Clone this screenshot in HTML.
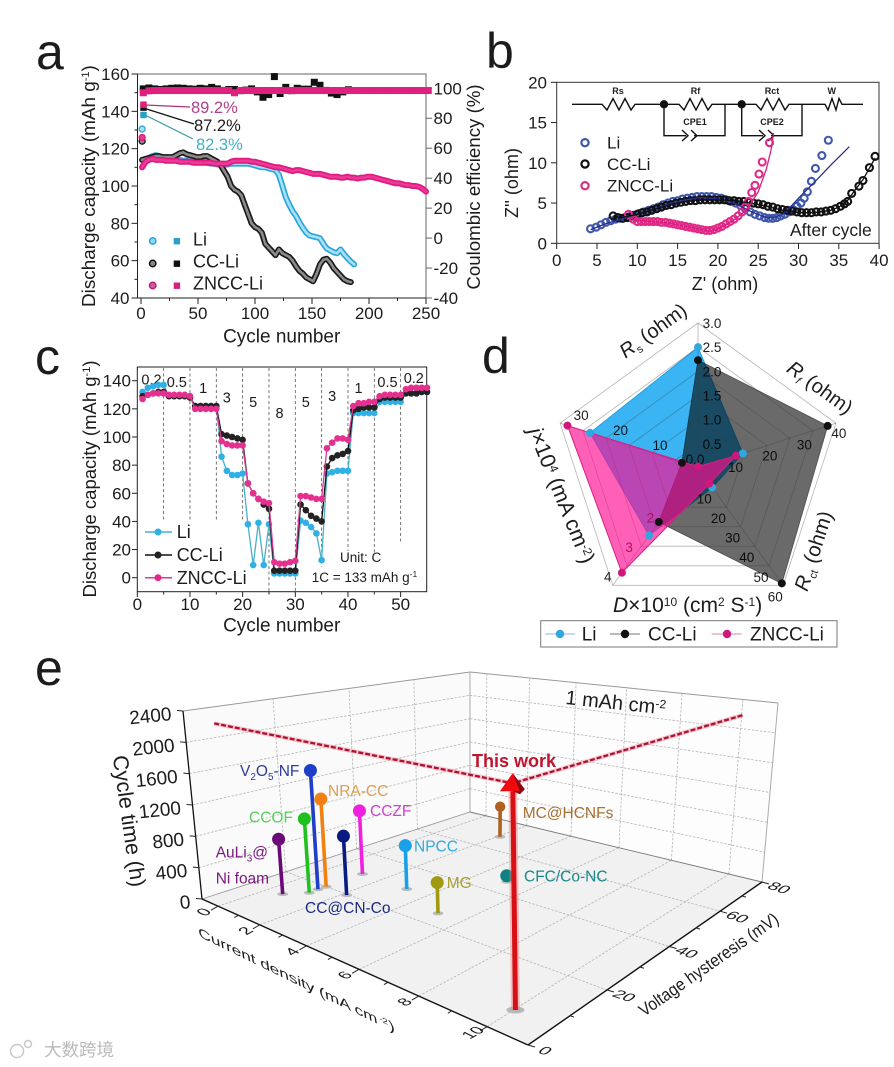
<!DOCTYPE html>
<html lang="en">
<head>
<meta charset="utf-8">
<title>Lithium anode battery performance figure</title>
<style>
html,body{margin:0;padding:0;background:#fff;}
svg{display:block;font-family:"Liberation Sans","Noto Sans CJK SC",sans-serif;filter:blur(.35px);}
text{fill:#1c1c1c;}
</style>
</head>
<body>
<svg id="fig" width="894" height="1067" viewBox="0 0 894 1067" xmlns="http://www.w3.org/2000/svg">
<rect width="894" height="1067" fill="#fff"/>
<text x="36" y="69" font-size="50">a</text>
<text x="486" y="68" font-size="50">b</text>
<text x="35" y="374" font-size="50">c</text>
<text x="482" y="373" font-size="50">d</text>
<text x="35" y="685" font-size="50">e</text>

<g id="panelA">
<rect x="137.5" y="74" width="288.5" height="224" fill="none" stroke="#666" stroke-width="1"/>
<line x1="137.5" y1="74" x2="137.5" y2="298" stroke="#222"/>
<line x1="137.5" y1="298" x2="426" y2="298" stroke="#222"/>
<text transform="translate(95,307) rotate(-90)" font-size="18.9">Discharge capacity (mAh g<tspan dy="-6" font-size="11">-1</tspan><tspan dy="6">)</tspan></text>
<text transform="translate(480,187) rotate(-90)" font-size="18.7" text-anchor="middle">Coulombic efficiency (%)</text>
<text x="281.7" y="342.7" font-size="19" text-anchor="middle">Cycle number</text>
<line x1="145" y1="105" x2="190" y2="107" stroke="#b0307a" stroke-width="1.2"/>
<line x1="145" y1="108.5" x2="194" y2="124" stroke="#111" stroke-width="1.2"/>
<line x1="145" y1="115" x2="193" y2="139" stroke="#3a9aa8" stroke-width="1.2"/>
<text x="191" y="113" font-size="16.5" style="fill:#b0408a">89.2%</text>
<text x="194" y="131" font-size="16.5">87.2%</text>
<text x="196" y="150" font-size="16.5" style="fill:#3fb0c8">82.3%</text>
<g>
<circle cx="152.7" cy="241" r="3.2" fill="#8fd6f2" stroke="#2aa5dc" stroke-width="1.5"/>
<rect x="173.7" y="238" width="6.4" height="6.4" fill="#2a9fc8"/>
<text x="193" y="245.5" font-size="18">Li</text>
<circle cx="152.7" cy="263.5" r="3.2" fill="#888" stroke="#111" stroke-width="1.5"/>
<rect x="173.7" y="260.5" width="6.4" height="6.4" fill="#111"/>
<text x="193" y="267.5" font-size="18">CC-Li</text>
<circle cx="152.7" cy="285.5" r="3.2" fill="#c860a0" stroke="#c0187c" stroke-width="1.5"/>
<rect x="173.7" y="282.5" width="6.4" height="6.4" fill="#d81f80"/>
<text x="193" y="289.5" font-size="18">ZNCC-Li</text>
</g>
</g>

<g id="panelB">
<rect x="556.7" y="82.3" width="322.3" height="161" fill="none" stroke="#333" stroke-width="1"/>
<text x="725" y="290" font-size="18" text-anchor="middle">Z' (ohm)</text>
<text transform="translate(518,183) rotate(-90)" font-size="18" text-anchor="middle">Z'' (ohm)</text>
<g fill="none" stroke="#111" stroke-width="1.4">
<polyline points="572,104.3 602,104.3 607,110 613,98.5 619,110 625,98.5 631,110 635,104.3 679,104.3 684,110 690,98.5 696,110 702,98.5 708,110 712,104.3 756,104.3 761,110 767,98.5 773,110 779,98.5 785,110 789,104.3 825,104.3 828,110 832,98.5 836,110 839,98.5 842,104.3 863,104.3"/>
<polyline points="664,104.3 664,135.7 686,135.7"/>
<polyline points="694,135.7 725,135.7 725,104.3"/>
<polyline points="682,130 688,135.7 682,141"/>
<polyline points="691,130 697,135.7 691,141"/>
<polyline points="741.7,104.3 741.7,135.7 763,135.7"/>
<polyline points="771,135.7 802,135.7 802,104.3"/>
<polyline points="759,130 765,135.7 759,141"/>
<polyline points="768,130 774,135.7 768,141"/>
<circle cx="664" cy="104.3" r="4.2" fill="#111" stroke="none"/>
<circle cx="741.7" cy="104.3" r="4.2" fill="#111" stroke="none"/>
</g>
<g font-size="9" font-weight="bold" text-anchor="middle">
<text x="618" y="94">Rs</text>
<text x="695.5" y="94">Rf</text>
<text x="772" y="94">Rct</text>
<text x="831.7" y="94">W</text>
<text x="695" y="125">CPE1</text>
<text x="772" y="125">CPE2</text>
</g>
<g>
<circle cx="585" cy="142.7" r="3.6" fill="none" stroke="#3b55a8" stroke-width="2.2"/>
<text x="607" y="148.5" font-size="17">Li</text>
<circle cx="585" cy="164" r="3.6" fill="none" stroke="#111" stroke-width="2.2"/>
<text x="607" y="170" font-size="17">CC-Li</text>
<circle cx="585" cy="185.7" r="3.6" fill="none" stroke="#d8307f" stroke-width="2.2"/>
<text x="607" y="191.5" font-size="17">ZNCC-Li</text>
</g>
<text x="790" y="236" font-size="17.5">After cycle</text>
</g>

<g id="panelC">
<rect x="137.3" y="367" width="289.4" height="224.7" fill="none" stroke="#222" stroke-width="1"/>
<text transform="translate(96,479) rotate(-90)" font-size="18.5" text-anchor="middle">Discharge capacity (mAh g<tspan dy="-6" font-size="11">-1</tspan><tspan dy="6">)</tspan></text>
<text x="281.7" y="631.7" font-size="19" text-anchor="middle">Cycle number</text>
<text x="340" y="562" font-size="13.5">Unit: C</text>
<text x="311.7" y="582" font-size="13.5">1C = 133 mAh g<tspan dy="-5" font-size="8.5">-1</tspan></text>
<g>
<line x1="145" y1="532" x2="172" y2="532" stroke="#4ab0c8" stroke-width="1.5"/>
<circle cx="158" cy="532" r="3.5" fill="#2fb0e6"/>
<text x="176.7" y="538" font-size="18">Li</text>
<line x1="145" y1="555" x2="172" y2="555" stroke="#111" stroke-width="1.5"/>
<circle cx="158" cy="555" r="3.5" fill="#222"/>
<text x="176.7" y="561" font-size="18">CC-Li</text>
<line x1="145" y1="577.7" x2="172" y2="577.7" stroke="#d83a90" stroke-width="1.5"/>
<circle cx="158" cy="577.7" r="3.5" fill="#e0288c"/>
<text x="176.7" y="584" font-size="18">ZNCC-Li</text>
</g>
</g>

<g id="panelD">
<text transform="translate(657,336) rotate(-36)" font-size="20" text-anchor="middle"><tspan font-style="italic">R</tspan><tspan dy="4" font-size="11">s</tspan><tspan dy="-4"> (ohm)</tspan></text>
<text transform="translate(816,393) rotate(36)" font-size="20" text-anchor="middle"><tspan font-style="italic">R</tspan><tspan dy="4" font-size="11" font-style="italic">f</tspan><tspan dy="-4"> (ohm)</tspan></text>
<text transform="translate(820,553) rotate(-72)" font-size="20.5" text-anchor="middle"><tspan font-style="italic">R</tspan><tspan dy="4" font-size="11">ct</tspan><tspan dy="-4"> (ohm)</tspan></text>
<text x="613" y="612" font-size="21"><tspan font-style="italic">D</tspan>×10<tspan dy="-6" font-size="12">10</tspan><tspan dy="6"> (cm</tspan><tspan dy="-6" font-size="12">2</tspan><tspan dy="6"> S</tspan><tspan dy="-6" font-size="12">-1</tspan><tspan dy="6">)</tspan></text>
<text transform="translate(555,498) rotate(68)" font-size="21.5" text-anchor="middle"><tspan font-style="italic">j</tspan>×10<tspan dy="-6" font-size="12">4</tspan><tspan dy="6"> (mA cm</tspan><tspan dy="-6" font-size="12">-2</tspan><tspan dy="6">)</tspan></text>
<g>
<rect x="540.7" y="620.7" width="296.3" height="26.3" fill="#fff" stroke="#777"/>
<line x1="545" y1="634" x2="575" y2="634" stroke="#8abbd0"/>
<circle cx="560" cy="634" r="4.2" fill="#2fa8e0"/>
<text x="581.7" y="640.5" font-size="19">Li</text>
<line x1="610" y1="634" x2="640" y2="634" stroke="#777"/>
<circle cx="625" cy="634" r="4.2" fill="#111"/>
<text x="648" y="640.5" font-size="19">CC-Li</text>
<line x1="711.7" y1="634" x2="741.7" y2="634" stroke="#d880b0"/>
<circle cx="727" cy="634" r="4.2" fill="#d0187c"/>
<text x="750" y="640.5" font-size="19">ZNCC-Li</text>
</g>
</g>

<g id="panelE"></g>
<g id="panelELabels">
<text transform="translate(122,822) rotate(82)" font-size="21.5" text-anchor="middle">Cycle time (h)</text>
<text transform="matrix(.9,.44,.28,.8,200,937)" font-size="19" font-style="italic">Current density (mA cm<tspan dy="-6" font-size="11"> -2</tspan><tspan dy="6">)</tspan></text>
<text transform="translate(644,1017) rotate(-35)" font-size="17.5" textLength="166" lengthAdjust="spacingAndGlyphs">Voltage hysteresis (mV)</text>
<text transform="translate(565,704) rotate(6)" font-size="20">1 mAh cm<tspan dy="-6" font-size="12">-2</tspan></text>
<text x="472" y="767" font-size="18" font-weight="bold" style="fill:#c0142e">This work</text>
<g font-size="15.5">
<text x="240" y="776" style="fill:#2c3c9c">V<tspan dy="4" font-size="10">2</tspan><tspan dy="-4">O</tspan><tspan dy="4" font-size="10">5</tspan><tspan dy="-4">-NF</tspan></text>
<text x="328" y="796" style="fill:#dca050">NRA-CC</text>
<text x="249" y="822.5" style="fill:#58d058">CCOF</text>
<text x="370" y="816" style="fill:#d040d0">CCZF</text>
<text x="215.7" y="857.5" style="fill:#7a1a80">AuLi<tspan dy="4" font-size="10">3</tspan><tspan dy="-4">@</tspan></text>
<text x="215.7" y="883.5" style="fill:#7a1a80">Ni foam</text>
<text x="305" y="913" style="fill:#1a2a80">CC@CN-Co</text>
<text x="414" y="851.5" style="fill:#30a8e0">NPCC</text>
<text x="446.7" y="888" style="fill:#a8a030">MG</text>
<text x="522.7" y="818" style="fill:#a87030">MC@HCNFs</text>
<text x="524" y="881.5" style="fill:#1a8888">CFC/Co-NC</text>
</g>
</g>

<g opacity=".8">
<circle cx="17" cy="1051" r="6.5" fill="none" stroke="#bbb" stroke-width="1.5"/>
<circle cx="28" cy="1044" r="3.5" fill="none" stroke="#bbb" stroke-width="1.5"/>
<text x="44" y="1056" font-size="17.5" style="fill:#aaa">大数跨境</text>
</g>
</svg>

<script>
/* ---------- panel a data ---------- */
const aXTicks = [0, 50, 100, 150, 200, 250];
const aYTicks = [40, 60, 80, 100, 120, 140, 160];
const aRTicks = [-40, -20, 0, 20, 40, 60, 80, 100];
const aFirstCycle = 1;
const aStep = 3;
const aFirstCapacityLi = 130.5;
const aFirstCapacityCC = 124;
const aFirstCapacityZ = 126;
const aCapacityLi = [110,113,115,116,116.5,116,115.5,115,115,114.5,114,114,113.5,113.5,113,113,113,113,113,112.5,112,112,111.5,111.5,111.5,111.5,112,112,112,112,112,112,111.5,111,110.5,110,110,109.5,109,108.5,106,100,94,90,86.5,84,80.5,77.5,75,73.5,73,72.5,72,69,66.5,65.5,64.5,64,66,63.5,61.5,59.5,58];
const aCapacityCC = [114,114.5,115,115.5,116,116,115.5,115.5,115.5,115.5,116.5,117.5,118,117,116.5,116,115.5,115.5,116,116,115,114,113,111,108,105,100,98,97,95,90,85,80,78,77,75,69,67,65,63,66,64,63,62,60,57,54.5,53,51,50,49,53,58,60.5,61,59,56,54,52,50,49,48.5];
const aCapacityZ = [110,113,114,114.5,114,114,114,113.5,113.5,113.5,113.5,113,113,113,113,112.5,112.5,112.5,112.5,112.5,112.5,112,112,112,112,112,113,113.5,113.5,113.5,113.5,113.5,113,113,112.5,112,111.5,111,110.5,110,110,109.5,109,108.5,108,108.5,108.5,108,107.5,107,106.5,106.5,106.5,106,105.5,105,105,105,104.5,104.5,105,104.5,104.5,104,104.5,104.5,105,105,104.5,104,103.5,103,102.5,102,101.5,101.5,101,100.5,100.5,100,100,99.5,98.5,97];
const ceStart = 2;
const ceStep = 5;
const ceFirstLi = 82.3;
const ceFirstCC = 87.2;
const ceFirstZ = 89.2;
const ceLi = [98,98.5,98.5,98.5,98.5,98.5,98.5,98.5,98.5,98.5,98.5,98.5,98.5,98.5,98.5,98.5,98.5,98.5,98.5,98.5,98.5,98.5,98.5,98.5,98.5,98.5,98.5,98.5,98.5,98.5,98.5,98.5,98.5,98,98,98.5,98.5,98.5];
const ceCC = [99.6,100.2,99.6,99.2,99.6,100,100.2,100,99.6,99.4,100,99.6,100.6,99.6,98.6,99.2,99.2,98.4,98.8,99.6,97.6,94,95.8,107.8,96.5,100.6,98.4,100,99.4,99.4,104,102,98.6,96.8,95.8,97.6,99];
const ceZ = [97,98.3,98.5,98.5,98.5,98.5,98.5,98.5,98.5,98.5,98.5,98.5,98.5,98.5,98.5,98.5,97,98.5,98.5,98.5,98.5,98.5,98.5,98.5,98.5,98.5,98.5,98.5,98.5,98.5,98.5,98.5,98.5,98.5,98.5,98.5,98.5,98.5,98.5,98.5,98.5,98.5,98.5,98.5,98.5,98.5,98.5,98.5,98.5,98.5,98.5];

/* ---------- panel b data ---------- */
const bXTicks = [0, 5, 10, 15, 20, 25, 30, 35, 40];
const bYTicks = [0, 5, 10, 15, 20];
const liZr = [4.2,4.9,5.5,6.1,6.7,7.3,7.9,8.5,9,9.6,10.2,10.8,11.4,12,12.6,13.2,13.8,14.4,15,15.6,16.2,16.8,17.4,18,18.6,19.2,19.8,20.4,21,21.6,22.2,22.8,23.4,24,24.6,25.2,25.8,26.3,26.8,27.3,27.8,28.3,28.8,29.3,29.8,30.3,30.7,31.1,31.6,32.1,32.9,33.7];
const liZi = [1.8,2.0,2.3,2.6,2.8,3.0,3.1,3.2,3.3,3.5,3.7,3.9,4.1,4.3,4.5,4.8,5.0,5.2,5.3,5.5,5.6,5.7,5.8,5.8,5.8,5.8,5.7,5.6,5.4,5.2,5.0,4.7,4.3,3.9,3.6,3.4,3.2,3.1,3.1,3.2,3.4,3.6,3.9,4.2,4.6,5.0,5.6,6.4,7.7,9.3,10.9,12.8];
const ccZr = [7,7.6,8.2,8.8,9.4,10,10.6,11.2,11.8,12.4,13,13.6,14.2,14.8,15.4,16,16.6,17.2,17.8,18.4,19,19.6,20.2,20.8,21.4,22,22.6,23.2,23.8,24.4,25,25.6,26.2,26.8,27.4,28,28.6,29.2,29.8,30.4,31,31.6,32.2,32.8,33.4,34,34.6,35.2,35.7,36.1,36.6,37.5,38,38.8,39.5];
const ccZi = [3.4,3.2,3.1,3.2,3.4,3.6,3.8,3.9,4.1,4.3,4.5,4.7,4.8,5.0,5.1,5.2,5.3,5.3,5.4,5.4,5.4,5.4,5.4,5.4,5.3,5.3,5.2,5.2,5.1,5.0,4.9,4.8,4.6,4.5,4.3,4.2,4.1,4.0,3.9,3.8,3.8,3.8,3.9,3.9,4.0,4.1,4.3,4.6,4.9,5.2,6.2,7.1,7.8,9.4,10.8];
const znZr = [8.9,9.5,10,10.5,11,11.5,12,12.5,13,13.5,14,14.5,15,15.5,16,16.5,17,17.5,18,18.5,19,19.5,20,20.5,21,21.5,22,22.5,23,23.4,23.8,24.2,24.6,25.1,25.5,26.4];
const znZi = [3.6,3.0,2.7,2.7,2.7,2.7,2.7,2.7,2.6,2.6,2.5,2.4,2.3,2.2,2.1,2.0,1.9,1.8,1.7,1.6,1.6,1.7,1.9,2.1,2.4,2.7,3.0,3.4,3.9,4.5,5.2,6.3,7.2,8.6,10.1,12.5];
const liFitR = [4.2,6,8,10,12,14,16,18,20,22,24,26,27,28,29,30,32,34,36.3];
const liFitI = [1.7,2.4,3.0,3.6,4.2,4.9,5.4,5.7,5.5,5,4,3.2,3.2,3.6,4.5,5.6,7.6,9.7,12];
const ccFitR = [7,8,10,12,14,16,18,20,22,24,26,28,30,32,34,35,36,37,38,39.5];
const ccFitI = [3.3,3.2,3.6,4.2,4.8,5.2,5.4,5.4,5.3,5,4.6,4.1,3.8,3.8,4.1,4.5,5.2,6.6,7.9,10.6];
const znFitR = [9,10,12,14,16,18,19,20,21,22,23,24,25,26,26.6,26.9];
const znFitI = [3.2,2.8,2.7,2.5,2.1,1.7,1.5,1.8,2.3,2.9,3.7,4.8,6.4,9.2,11.6,13.7];

/* ---------- panel c data ---------- */
const cXTicks = [0, 10, 20, 30, 40, 50];
const cYTicks = [0, 20, 40, 60, 80, 100, 120, 140];
const cCycles = [1,2,3,4,5,6,7,8,9,10,11,12,13,14,15,16,17,18,19,20,21,22,23,24,25,26,27,28,29,30,31,32,33,34,35,36,37,38,39,40,41,42,43,44,45,46,47,48,49,50,51,52,53,54,55];
const cLi = [132,135,136,137,137,129,129,129,129,129,122,122,122,122,122,86,76,73,73,74,38,9,39,9,38,3,3,3,3,3,40.5,39,36,31.5,12.5,74,75,76,76,76,117,117,117,117,117,125,125,125,125,125,131,131,131,132,132];
const cCC = [129,130,131,132,132,129,129,129,129,128,122,122,122,122,122,102,101,100,99,98,67,60,56,52,49,5,5,5,5,5,52,48,44,42,40,79,85,87,88,90,119,120,121,121,121,127,128,128,128,128,131,131,131,132,132];
const cZ = [127,130,131,131,131,130,130,130,130,129,120,120,120,120,120,97,95,94,94,94,67,60,56,54,53,11,10,10,11,12,58,58,57,56,56,92,96,99,99,98,122,124,124,125,125,129,130,130,130,130,134,135,135,135,135];
const cRateLabels = ["0.2","0.5","1","3","5","8","5","3","1","0.5","0.2"];
const cRateCycles = [2.7,7.5,12.5,17,22,27,32,37,42,47.5,52.5];
const cRateValues = [141,139,135,128,125,117,125,129,135,139,142];
const cDividers = [5,10,15,20,25,30,35,40,45,50];
const cDividerEnds = [41,41,41,41,-10,-10,8,19,16,25];

/* ---------- panel d data ---------- */
const radarMax = [3, 40, 60, 4, 30];
const radarLi = [2.5, 13, 10, 2.3, 23.5];
const radarCC = [2.23, 37.6, 59, 1.84, 3.5];
const radarZ = [0.03, 11, 8, 3.57, 28.4];
const radarTickText = [
  ["0.5","1.0","1.5","2.0","2.5","3.0"],
  ["10","20","30","40"],
  ["10","20","30","40","50","60"],
  ["2","3","4"],
  ["10","20","30"]
];
const radarTickValues = [
  [0.5,1,1.5,2,2.5,3],
  [10,20,30,40],
  [10,20,30,40,50,60],
  [2,3,4],
  [10,20,30]
];

/* ---------- panel e data ---------- */
const eXTicks = [0, 2, 4, 6, 8, 10];
const eXMinor = [1, 3, 5, 7, 9];
const eVTicks = [0, 20, 40, 60, 80];
const eVMinor = [10, 30, 50, 70];
const eZTicks = [0, 400, 800, 1200, 1600, 2000, 2400];
const eNames = ["auli3-ni-foam","ccof","v2o5-nf","nra-cc","cc-cn-co","cczf","npcc","mg","mc-hcnfs","cfc-co-nc"];
const eCurrent = [0.65, 1.16, 1.14, 1.16, 2.15, 1.18, 3.16, 5.13, 2.09, 5.07];
const eVoltage = [11.8, 15.7, 18, 20, 19.7, 29.7, 29.7, 24.8, 68.5, 46];
const eCycleTime = [710, 960, 1560, 1160, 760, 870, 570, 375, 470, 80];
const eColors = ["#6a0a78","#20c020","#1f3fc8","#f08010","#0a1a80","#f020e0","#1aa0e8","#a09a10","#b06020","#108080"];
const thisWorkCurrent = 10.03;
const thisWorkVoltage = 6.2;
const thisWorkCycle = 2284;
const refLineCycle = 2185;

/* ---------- helpers ---------- */
const NS = 'http://www.w3.org/2000/svg';
function mk(tag, attrs, parent) {
  const e = document.createElementNS(NS, tag);
  for (const k in attrs) e.setAttribute(k, attrs[k]);
  parent.appendChild(e);
  return e;
}
function tick(parent, x1, y1, x2, y2, color, w) {
  const t = mk('line', {x1: x1, y1: y1, x2: x2, y2: y2, stroke: color || '#222', 'stroke-width': w || 1}, parent);
  
  
  return t;
}
function label(parent, x, y, str, size, anchor, extra) {
  const t = mk('text', Object.assign({x: x, y: y, 'font-size': size, 'text-anchor': anchor || 'middle'}, extra || {}), parent);
  t.textContent = str;
  
  
  return t;
}
function path(points) { return points.map(p => p[0].toFixed(1) + ',' + p[1].toFixed(1)).join(' '); }

/* ---------- panel a ---------- */
(function () {
  const g = document.getElementById('panelA');
  const xA = c => 141 + c * 1.14;
  const yA = v => 298 - (v - 40) * 224 / 120;
  const yR = v => 298 - (v + 40) * 1.498;
  aXTicks.forEach(t => {
    tick(g, xA(t), 298, xA(t), 304);
    label(g, xA(t), 319, t, 17);
    if (t < 250) tick(g, xA(t + 25), 298, xA(t + 25), 301);
  });
  aYTicks.forEach(t => {
    tick(g, 137.5, yA(t), 131.5, yA(t));
    label(g, 129.5, yA(t) + 6, t, 17, 'end');
    if (t < 160) tick(g, 137.5, yA(t + 10), 134.5, yA(t + 10));
  });
  aRTicks.forEach(t => {
    tick(g, 426, yR(t), 432, yR(t), '#666');
    label(g, 433.5, yR(t) + 6, t, 17, 'start');
  });
  function squares(arr, first, color, name) {
    const a = mk('rect', {x: xA(2) - 3, y: yR(first) - 3, width: 6.4, height: 6.4, fill: color}, g);
    
    
    arr.forEach((v, i) => {
      const c = ceStart + i * ceStep;
      const r = mk('rect', {x: xA(c) - 3.5, y: yR(v) - 3.5, width: 7, height: 7, fill: color}, g);
      
      
    });
  }
  function circles(arr, first, fill, stroke, name) {
    const f = mk('circle', {cx: xA(aFirstCycle), cy: yA(first), r: 3, fill: fill, stroke: stroke, 'stroke-width': 1.3}, g);
    
    
    const pts = arr.map((v, i) => [xA(aFirstCycle + i * aStep), yA(v)]);
    const outer = mk('polyline', {points: path(pts), fill: 'none', stroke: stroke, 'stroke-width': 6, 'stroke-linejoin': 'round', 'stroke-linecap': 'round'}, g);
    
    
    const inner = mk('polyline', {points: path(pts), fill: 'none', stroke: fill, 'stroke-width': 2.6, 'stroke-linejoin': 'round'}, g);
    
    
    pts.forEach(q => {
      const p = mk('circle', {cx: q[0], cy: q[1], r: 1.4, fill: fill}, g);
      
      
    });
  }
  squares(ceLi, ceFirstLi, '#2a9fc8', 'li-efficiency-point');
  squares(ceCC, ceFirstCC, '#111', 'cc-efficiency-point');
  squares(ceZ, ceFirstZ, '#e0207f', 'zncc-efficiency-point');
  circles(aCapacityLi, aFirstCapacityLi, '#a8e0f5', '#2aa5dc', 'li-capacity-point');
  circles(aCapacityCC, aFirstCapacityCC, '#8a8a8a', '#1a1a1a', 'cc-capacity-point');
  circles(aCapacityZ, aFirstCapacityZ, '#ea3a98', '#e0187f', 'zncc-capacity-point');
})();

/* ---------- panel b ---------- */
(function () {
  const g = document.getElementById('panelB');
  const xB = z => 556.7 + z * 8.06;
  const yB = z => 243.3 - z * 8.05;
  bXTicks.forEach(t => {
    tick(g, xB(t), 243.3, xB(t), 249);
    label(g, xB(t), 266, t, 17);
  });
  bYTicks.forEach(t => {
    tick(g, 556.7, yB(t), 551, yB(t));
    label(g, 547, yB(t) + 6, t, 17, 'end');
  });
  function series(rs, is, color, name) {
    rs.forEach((r, i) => {
      const p = mk('circle', {cx: xB(r), cy: yB(is[i]), r: 3.5, fill: 'none', stroke: color, 'stroke-width': 2.1}, g);
      
      
    });
  }
  function fit(rs, is, color, name) {
    const l = mk('polyline', {points: path(rs.map((r, i) => [xB(r), yB(is[i])])), fill: 'none', stroke: color, 'stroke-width': 1.3}, g);
    
    
  }
  series(liZr, liZi, '#3f58ad', 'li-impedance-point');
  series(ccZr, ccZi, '#111', 'cc-impedance-point');
  series(znZr, znZi, '#e02a88', 'zncc-impedance-point');
  fit(liFitR, liFitI, '#2a2f90', 'li-impedance-fit');
  fit(ccFitR, ccFitI, '#111', 'cc-impedance-fit');
  fit(znFitR, znFitI, '#d8207f', 'zncc-impedance-fit');
})();

/* ---------- panel c ---------- */
(function () {
  const g = document.getElementById('panelC');
  const xC = c => 137.3 + c * 5.267;
  const yC = v => 577.7 - v * 1.407;
  cXTicks.forEach(t => {
    tick(g, xC(t), 591.7, xC(t), 597);
    label(g, xC(t), 610, t, 17);
    if (t < 50) tick(g, xC(t + 5), 591.7, xC(t + 5), 594.5);
  });
  cYTicks.forEach(t => {
    tick(g, 137.3, yC(t), 132, yC(t));
    label(g, 131, yC(t) + 6, t, 17, 'end');
  });
  cDividers.forEach((c, i) => {
    const d = mk('line', {x1: xC(c), y1: 368, x2: xC(c), y2: yC(cDividerEnds[i]), stroke: '#555', 'stroke-width': .8, 'stroke-dasharray': '3 2.5'}, g);
    
    
  });
  cRateLabels.forEach((t, i) => {
    label(g, xC(cRateCycles[i]), yC(cRateValues[i]) + 5, t, 14.5);
  });
  function series(vals, color, stroke, name) {
    const l = mk('polyline', {points: path(vals.map((v, i) => [xC(cCycles[i]), yC(v)])), fill: 'none', stroke: stroke, 'stroke-width': 1.3}, g);
    
    
    vals.forEach((v, i) => {
      const p = mk('circle', {cx: xC(cCycles[i]), cy: yC(v), r: 3.3, fill: color}, g);
      
      
    });
  }
  series(cLi, '#2fb0e6', '#4ab0c8', 'li-rate');
  series(cCC, '#222', '#111', 'cc-rate');
  series(cZ, '#e6308f', '#d83a90', 'zncc-rate');
})();

/* ---------- panel d ---------- */
(function () {
  const g = document.getElementById('panelD');
  const cx = 698, cy = 468, R = 145;
  const ang = i => (-90 + 72 * i) * Math.PI / 180;
  const radarPoint = (axis, val) => [cx + Math.cos(ang(axis)) * R * val / radarMax[axis], cy + Math.sin(ang(axis)) * R * val / radarMax[axis]];
  const offsets = [[14, 5], [3, 15], [-8, 16], [-5, -4], [8, -3]];
  const ringFractions = [1 / 6, 2 / 6, 3 / 6, 4 / 6, 5 / 6, 1];
  label(g, 695, 464, '0.0', 13.5);
  radarTickText.forEach((arr, a) => {
    arr.forEach((t, i) => {
      const p = radarPoint(a, radarTickValues[a][i]);
      const extra = a === 4 ? i * 6.5 : 0;
      label(g, p[0] + offsets[a][0] + extra, p[1] + offsets[a][1], t, 13.5);
    });
  });
  function poly(vals, fill, stroke, name, extra) {
    const pl = mk('polygon', Object.assign({points: path(vals.map((v, i) => radarPoint(i, v))), fill: fill, stroke: stroke, 'stroke-width': 1}, extra || {}), g);
    
    
  }
  poly(radarCC, '#6a6a6a', '#555', 'cc-radar-area', {style: 'mix-blend-mode:multiply'});
  poly(radarLi, '#3ab4f2', '#2aa0e0', 'li-radar-area', {style: 'mix-blend-mode:multiply'});
  ringFractions.forEach(f => {
    const r = mk('polygon', {points: path(radarMax.map((m, i) => radarPoint(i, m * f))), fill: 'none', stroke: 'rgba(60,60,60,.38)', 'stroke-width': .8}, g);
    
    
  });
  radarMax.forEach((m, i) => {
    const o = radarPoint(i, m);
    const s = mk('line', {x1: cx, y1: cy, x2: o[0], y2: o[1], stroke: 'rgba(60,60,60,.4)', 'stroke-width': .8}, g);
    
    
  });
  poly(radarZ, 'rgba(255,10,144,.65)', '#d8207f', 'zncc-radar-area');
  function dots(vals, color, name) {
    vals.forEach((v, i) => {
      const p = radarPoint(i, v);
      const d = mk('circle', {cx: p[0], cy: p[1], r: 4, fill: color}, g);
      
      
    });
  }
  dots(radarLi, '#2fa8e0', 'li-radar-point');
  dots(radarCC, '#111', 'cc-radar-point');
  dots(radarZ, '#d0187c', 'zncc-radar-point');
})();

/* ---------- panel e ---------- */
(function () {
  const g = document.getElementById('panelE');
  const xMin = -0.83, xMax = 11.07, vMax = 80, zMax = 2400;
  function quad(q) {
    const [p0, p1, p2, p3] = q;
    const dx1 = p1[0] - p2[0], dx2 = p3[0] - p2[0], sx = p0[0] - p1[0] + p2[0] - p3[0];
    const dy1 = p1[1] - p2[1], dy2 = p3[1] - p2[1], sy = p0[1] - p1[1] + p2[1] - p3[1];
    const det = dx1 * dy2 - dx2 * dy1;
    const G = (sx * dy2 - dx2 * sy) / det, H = (dx1 * sy - sx * dy1) / det;
    return {
      a: p1[0] - p0[0] + G * p1[0], b: p3[0] - p0[0] + H * p3[0], c: p0[0],
      d: p1[1] - p0[1] + G * p1[1], e: p3[1] - p0[1] + H * p3[1], f: p0[1], g: G, h: H
    };
  }
  const floorH = quad([[202, 899], [528, 1045], [762, 882], [470, 812]]);
  const topH = quad([[183, 711], [525, 777], [778, 703], [470, 672]]);
  function hom(m, u, v) {
    const D = 1 + m.g * u + m.h * v;
    return [(m.a * u + m.b * v + m.c) / D, (m.d * u + m.e * v + m.f) / D];
  }
  function project(x, v, z) {
    const u = (x - xMin) / (xMax - xMin), w = v / vMax, k = z / zMax;
    const a = hom(floorH, u, w), b = hom(topH, u, w);
    return [a[0] + (b[0] - a[0]) * k, a[1] + (b[1] - a[1]) * k];
  }
  function face(pts, fill, name) {
    const f = mk('polygon', {points: path(pts), fill: fill, stroke: 'none'}, g);
    
    
  }
  face([project(xMin, 0, 0), project(xMin, 0, zMax), project(xMin, vMax, zMax), project(xMin, vMax, 0)], '#fafafa', 'left-wall');
  face([project(xMin, vMax, 0), project(xMin, vMax, zMax), project(xMax, vMax, zMax), project(xMax, vMax, 0)], '#fdfdfd', 'back-wall');
  face([project(xMin, 0, 0), project(xMax, 0, 0), project(xMax, vMax, 0), project(xMin, vMax, 0)], '#f1f1f1', 'floor');
  function grid(a, b) {
    const l = mk('line', {x1: a[0], y1: a[1], x2: b[0], y2: b[1], stroke: '#b4b4b4', 'stroke-width': .8, 'stroke-dasharray': '2.5 1.5'}, g);
    
    
  }
  eXTicks.forEach(t => {
    grid(project(t, 0, 0), project(t, vMax, 0));
    grid(project(t, vMax, 0), project(t, vMax, zMax));
  });
  eVTicks.slice(1, 4).forEach(t => {
    grid(project(xMin, t, 0), project(xMax, t, 0));
    grid(project(xMin, t, 0), project(xMin, t, zMax));
  });
  eZTicks.slice(1, 6).forEach(t => {
    grid(project(xMin, 0, t), project(xMin, vMax, t));
    grid(project(xMin, vMax, t), project(xMax, vMax, t));
  });
  function edge(a, b, color, w, name) {
    const l = mk('line', {x1: a[0], y1: a[1], x2: b[0], y2: b[1], stroke: color, 'stroke-width': w}, g);
    
    
  }
  edge(project(xMin, 0, zMax), project(xMin, vMax, zMax), '#999', 1, 'top-edge-left');
  edge(project(xMin, vMax, zMax), project(xMax, vMax, zMax), '#999', 1, 'top-edge-back');
  edge(project(xMin, vMax, 0), project(xMin, vMax, zMax), '#aaa', 1, 'back-corner-edge');
  edge(project(xMax, vMax, 0), project(xMax, vMax, zMax), '#aaa', 1, 'right-edge');
  edge(project(xMin, 0, 0), project(xMin, vMax, 0), '#999', .9, 'floor-edge-left');
  edge(project(xMin, vMax, 0), project(xMax, vMax, 0), '#777', .9, 'floor-edge-back');
  edge(project(xMin, 0, 0), project(xMin, 0, zMax), '#111', 1.3, 'z-axis-line');
  edge(project(xMin, 0, 0), project(xMax, 0, 0), '#111', 1.4, 'x-axis-line');
  edge(project(xMax, 0, 0), project(xMax, vMax, 0), '#111', 1.4, 'voltage-axis-line');

  eZTicks.forEach(t => {
    const p = project(xMin, 0, t);
    tick(g, p[0], p[1], p[0] - 6, p[1] - .5);
    const l = label(g, 0, 0, t, 19, 'end');
    l.setAttribute('transform', 'translate(' + (p[0] - 11) + ',' + (p[1] + 9) + ') rotate(-6)');
  });
  eXTicks.forEach(t => {
    const p = project(t, 0, 0);
    tick(g, p[0], p[1], p[0] - 7, p[1] + 4);
    const l = label(g, 0, 6, t, 19, 'middle');
    l.setAttribute('transform', 'matrix(.75,-.42,.75,.38,' + (p[0] - 14) + ',' + (p[1] + 6) + ')');
  });
  eXMinor.forEach(t => {
    const p = project(t, 0, 0);
    tick(g, p[0], p[1], p[0] - 4, p[1] + 2.3);
  });
  eVTicks.forEach(t => {
    const p = project(xMax, t, 0);
    tick(g, p[0], p[1], p[0] + 7, p[1] + 2);
    const l = label(g, 0, 6, t, 19, 'middle');
    l.setAttribute('transform', 'matrix(.9,.3,-.6,.5,' + (p[0] + 17) + ',' + (p[1] + 6) + ')');
  });
  eVMinor.forEach(t => {
    const p = project(xMax, t, 0);
    tick(g, p[0], p[1], p[0] + 4, p[1] + 1.2);
  });

  const a = project(xMin, thisWorkVoltage, refLineCycle);
  const b = project(thisWorkCurrent, thisWorkVoltage, refLineCycle);
  const c = project(thisWorkCurrent, vMax, refLineCycle);
  const glow = mk('polyline', {points: path([a, b, c]), fill: 'none', stroke: 'rgba(230,90,110,.3)', 'stroke-width': 4.5}, g);
  
  
  const dash = mk('polyline', {points: path([a, b, c]), fill: 'none', stroke: '#b21030', 'stroke-width': 2.3, 'stroke-dasharray': '5 2'}, g);
  
  

  eNames.forEach((n, i) => {
    const foot = project(eCurrent[i], eVoltage[i], 0);
    const head = project(eCurrent[i], eVoltage[i], eCycleTime[i]);
    const sh = mk('ellipse', {cx: foot[0], cy: foot[1], rx: 5.5, ry: 2, fill: '#bbb'}, g);
    
    
    const st = mk('line', {x1: foot[0], y1: foot[1], x2: head[0], y2: head[1], stroke: eColors[i], 'stroke-width': 3.6}, g);
    
    
    const h = mk('circle', {cx: head[0], cy: head[1], r: i === 8 ? 5.2 : 6.5, fill: eColors[i]}, g);
    
    
  });

  const tf = project(thisWorkCurrent, thisWorkVoltage, 0);
  const tt = project(thisWorkCurrent, thisWorkVoltage, thisWorkCycle);
  const tb = project(thisWorkCurrent, thisWorkVoltage, thisWorkCycle - 175);
  const tsh = mk('ellipse', {cx: tf[0], cy: tf[1], rx: 9, ry: 3.5, fill: '#b8b8b8'}, g);
  
  
  const tg = mk('line', {x1: tf[0], y1: tf[1], x2: tb[0], y2: tb[1], stroke: 'rgba(240,120,120,.4)', 'stroke-width': 9}, g);
  
  
  const ts = mk('line', {x1: tf[0], y1: tf[1], x2: tb[0], y2: tb[1], stroke: '#d80f14', 'stroke-width': 5}, g);
  
  
  const td = mk('polygon', {points: path([tt, [tb[0] + 12, tb[1] - 2], [tb[0] + 7, tb[1] + 3], [tb[0], tb[1]]]), fill: '#8a0a12'}, g);
  
  
  const th = mk('polygon', {points: path([tt, [tb[0] + 7, tb[1]], [tb[0] - 13, tb[1]]]), fill: '#f00a10'}, g);
  
  
})();
</script>
</body>
</html>
